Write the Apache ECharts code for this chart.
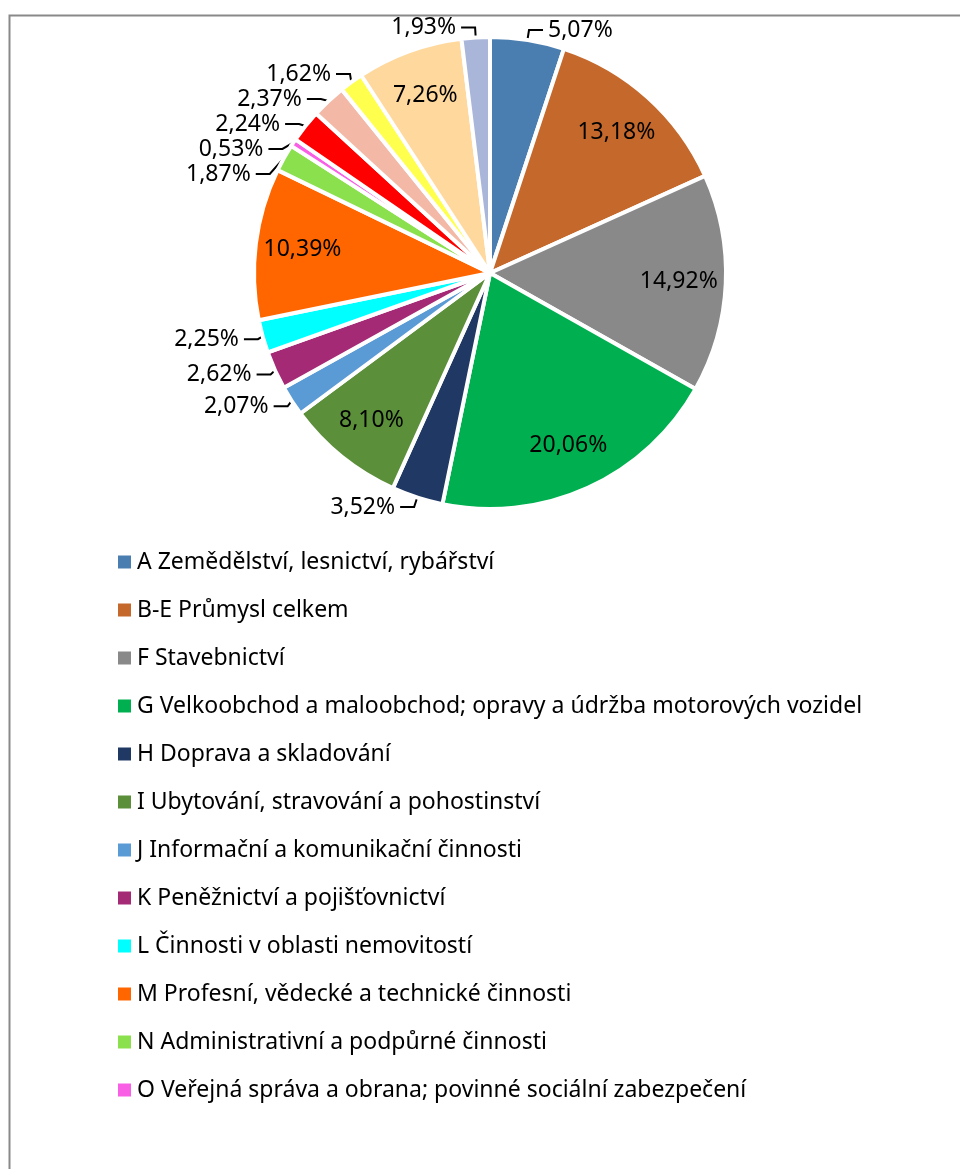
<!DOCTYPE html>
<html>
<head>
<meta charset="utf-8">
<script src="https://cdn.jsdelivr.net/npm/echarts@6/dist/echarts.min.js"></script>
<style>
  html, body { margin: 0; padding: 0; background: #fff; }
  #main { width: 960px; height: 1169px; }
</style>
</head>
<body>
<div id="main"></div>
<script>
var kategorie = [
  'A Zemědělství, lesnictví, rybářství',
  'B-E Průmysl celkem',
  'F Stavebnictví',
  'G Velkoobchod a maloobchod; opravy a údržba motorových vozidel',
  'H Doprava a skladování',
  'I Ubytování, stravování a pohostinství',
  'J Informační a komunikační činnosti',
  'K Peněžnictví a pojišťovnictví',
  'L Činnosti v oblasti nemovitostí',
  'M Profesní, vědecké a technické činnosti',
  'N Administrativní a podpůrné činnosti',
  'O Veřejná správa a obrana; povinné sociální zabezpečení',
  'P Vzdělávání',
  'Q Zdravotní a sociální péče',
  'R Kulturní, zábavní a rekreační činnosti',
  'S Ostatní činnosti',
  'T Činnosti domácností'
];
var podily = [5.07, 13.18, 14.92, 20.06, 3.52, 8.10, 2.07, 2.62, 2.25, 10.39, 1.87, 0.53, 2.24, 2.37, 1.62, 7.26, 1.93];
var barvy = ['#4a7eb0', '#c4682b', '#898989', '#00b050', '#1f3864', '#5b8f3a', '#5b9bd5', '#a52a76',
  '#00ffff', '#ff6600', '#8ae04d', '#f95fe5', '#ff0000', '#f3b9a6', '#ffff4d', '#ffd89e', '#a9b6da'];
// legenda v originale je useknuta za polozkou O
var legendaPolozky = kategorie.slice(0, 12);

var font = '"Noto Sans", sans-serif';
var fmt = function (p) { return p.value.toFixed(2).replace('.', ',') + '%'; };

var velky = function (v) { return v >= 7; };

var dataVen = kategorie.map(function (n, i) {
  return {
    name: n,
    value: podily[i],
    itemStyle: { color: barvy[i] },
    label: { show: !velky(podily[i]) },
    labelLine: { show: !velky(podily[i]) }
  };
});
var dataUvnitr = kategorie.map(function (n, i) {
  return {
    name: n,
    value: podily[i],
    label: { show: velky(podily[i]) }
  };
});

var chart = echarts.init(document.getElementById('main'), null, { renderer: 'canvas' });

chart.setOption({
  animation: false,
  graphic: [{
    type: 'rect',
    left: 7, top: 13,
    shape: { width: 1000, height: 1200 },
    style: { fill: 'none', stroke: '#898989', lineWidth: 2 },
    silent: true
  }],
  legend: {
    orient: 'vertical',
    left: 111,
    top: 545,
    data: legendaPolozky,
    icon: 'rect',
    itemWidth: 15,
    itemHeight: 15,
    itemGap: 24,
    textStyle: { fontFamily: font, fontSize: 23, color: '#000', lineHeight: 24 }
  },
  series: [
    {
      type: 'pie',
      center: [490, 273],
      radius: [0, 236],
      startAngle: 90,
      clockwise: true,
      avoidLabelOverlap: true,
      itemStyle: { borderColor: '#fff', borderWidth: 4 },
      label: {
        position: 'outside',
        formatter: fmt,
        fontFamily: font,
        fontSize: 23,
        color: '#000'
      },
      labelLine: {
        length: 10,
        length2: 14,
        lineStyle: { color: '#000', width: 2 }
      },
      emphasis: { disabled: true },
      data: dataVen
    },
    {
      type: 'pie',
      center: [490, 273],
      radius: [136, 236],
      startAngle: 90,
      clockwise: true,
      silent: true,
      itemStyle: { color: 'transparent' },
      label: {
        position: 'inside',
        formatter: fmt,
        fontFamily: font,
        fontSize: 23,
        color: '#000'
      },
      labelLine: { show: false },
      data: dataUvnitr
    }
  ]
});
</script>
</body>
</html>
